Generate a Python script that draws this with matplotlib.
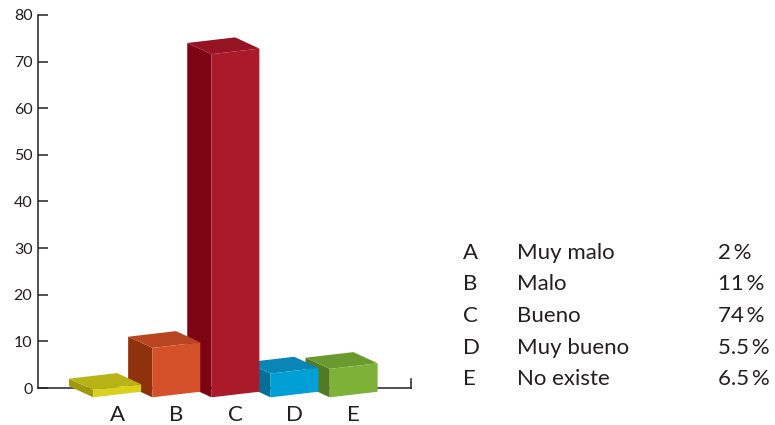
import numpy as np
import matplotlib
matplotlib.use('Agg')
import matplotlib.pyplot as plt
from matplotlib.patches import Polygon

plt.rcParams['font.family'] = ['Lato', 'DejaVu Sans']

## data
letters = ['A', 'B', 'C', 'D', 'E']
names = ['Muy malo', 'Malo', 'Bueno', 'Muy bueno', 'No existe']
values = [2, 11, 74, 5.5, 6.5]
pct_labels = ['2\u2009%', '11\u2009%', '74\u2009%', '5.5\u2009%', '6.5\u2009%']

# colours per bar: front, top, side
front_cols = ['#d9d11c', '#d5512a', '#ab1a2a', '#00a0d6', '#7eb137']
top_cols = ['#b8b417', '#b8451f', '#951322', '#0a86b6', '#6a9a2d']
side_cols = ['#9f9a0c', '#8f310c', '#7c0413', '#036f98', '#507b22']

txt_col = '#231f20'

fig = plt.figure(figsize=(7.75, 4.25), dpi=100)
ax = fig.add_axes([38/775, 1 - 388/425, 373/775, 373/425])

ax.set_xlim(-1.34, 4.97)
ax.set_ylim(0, 80)

# fake 3d look
w = 0.81      # front width
yb = -2.0     # front bottom (slightly below the axis)
tilt = 1.2    # perspective tilt of top/bottom edges
dx, dy = -0.41, 2.4   # depth offset to the back

# draw right to left so the left bars sit in front
for i in range(len(values) - 1, -1, -1):
    # back top-left corner sits at the value
    yt = values[i] - dy
    x0, x1 = i - w/2, i + w/2
    z = 10 + (len(values) - i) * 3
    front = [(x0, yb), (x1, yb + tilt), (x1, yt + tilt), (x0, yt)]
    top = [(x0, yt), (x1, yt + tilt), (x1 + dx, yt + tilt + dy), (x0 + dx, yt + dy)]
    side = [(x0, yb), (x0, yt), (x0 + dx, yt + dy), (x0 + dx, yb + dy)]
    ax.add_patch(Polygon(side, closed=True, fc=side_cols[i], ec='none', zorder=z, clip_on=False))
    ax.add_patch(Polygon(top, closed=True, fc=top_cols[i], ec='none', zorder=z + 1, clip_on=False))
    ax.add_patch(Polygon(front, closed=True, fc=front_cols[i], ec='none', zorder=z + 2, clip_on=False))

# axes styling
ax.spines['top'].set_visible(False)
ax.spines['right'].set_bounds(0, 1.9)
for s in ['left', 'bottom', 'right']:
    ax.spines[s].set_color(txt_col)
    ax.spines[s].set_linewidth(1.1)

ax.set_yticks(np.arange(0, 81, 10))
ax.tick_params(axis='y', direction='in', length=7, width=1.1, color=txt_col,
               labelsize=11.5, labelcolor=txt_col, pad=4)
ax.set_xticks(range(len(letters)))
ax.set_xticklabels(letters)
ax.tick_params(axis='x', length=0, labelsize=16, labelcolor=txt_col, pad=12)

# legend table on the right
rows_y = [253, 284.5, 316, 347.5, 379]
for i in range(len(letters)):
    y = 1 - rows_y[i] / 425
    fig.text(463/775, y, letters[i], fontsize=16, color=txt_col, va='center', ha='left')
    fig.text(517/775, y, names[i], fontsize=16, color=txt_col, va='center', ha='left')
    fig.text(718/775, y, pct_labels[i], fontsize=16, color=txt_col, va='center', ha='left')

fig.savefig('out.png', dpi=100)
